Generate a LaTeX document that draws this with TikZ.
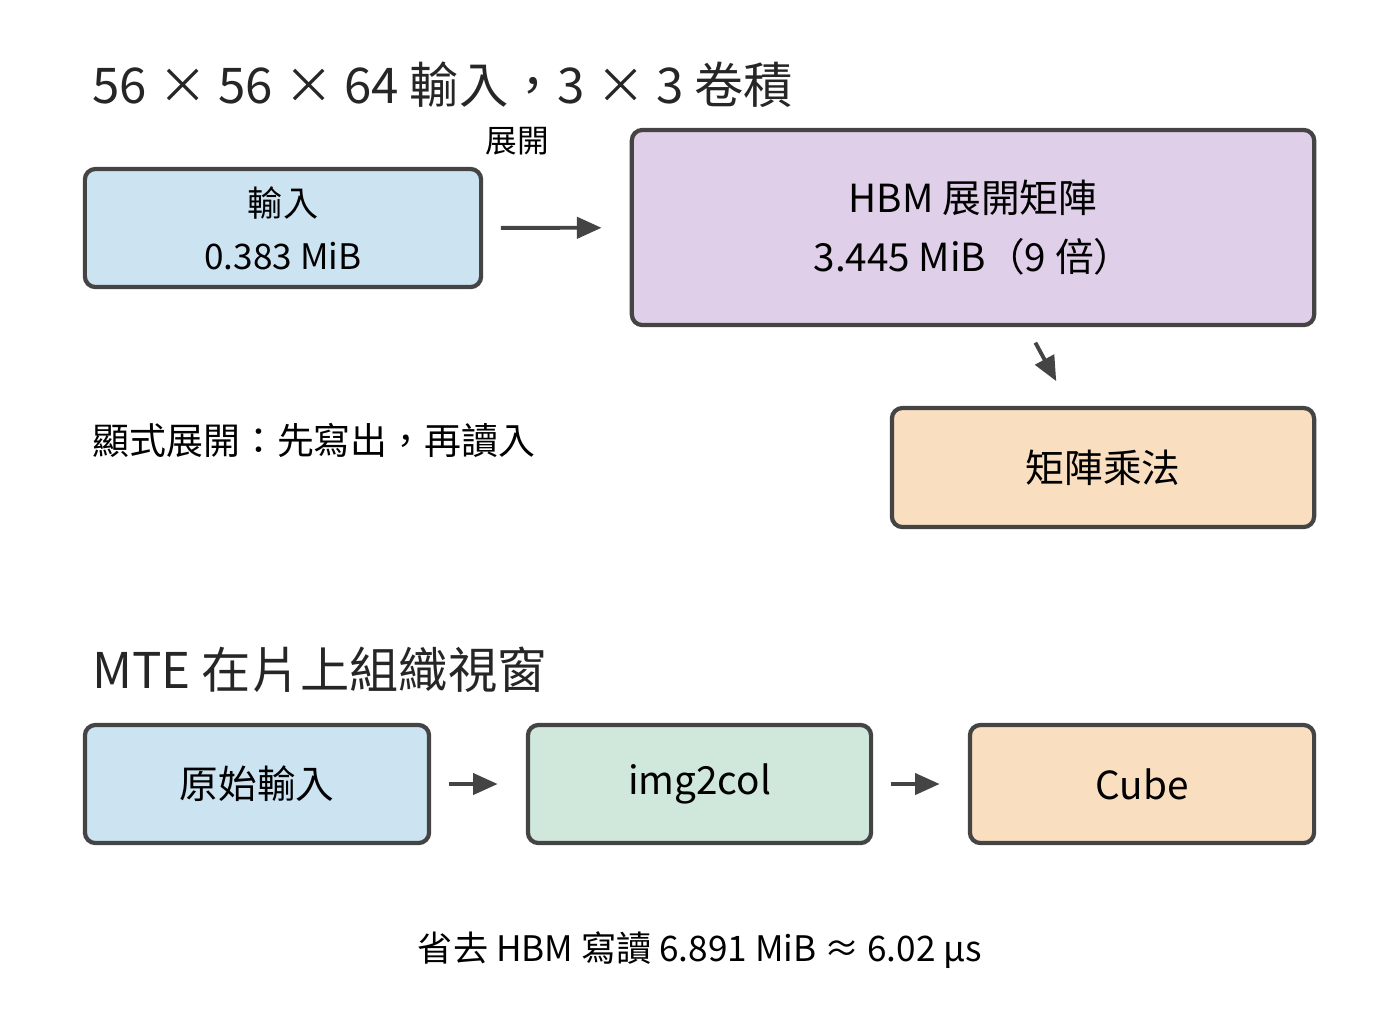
\documentclass[tikz,border=0pt]{standalone}
\usepackage{fontspec}
\setmainfont{Noto Sans CJK TC}
\usetikzlibrary{positioning,arrows.meta}
\definecolor{inblue}{HTML}{CCE3F2}
\definecolor{hbmpurple}{HTML}{E0CFE8}
\definecolor{mmorange}{HTML}{F9DFC0}
\definecolor{colgreen}{HTML}{D0E8DC}
\definecolor{edge}{HTML}{444444}
\tikzset{
  box/.style={draw=edge, line width=1.2pt, rounded corners=3pt, align=center, font=\fontsize{10}{15}\selectfont, inner sep=0pt},
  flow/.style={draw=edge, line width=1.1pt, -{Triangle[length=7pt,width=6pt]}, shorten <=5pt, shorten >=8pt},
  head/.style={anchor=west, font=\fontsize{14}{16}\selectfont, text=black!85},
}
\begin{document}
\begin{tikzpicture}[x=0.01cm,y=-0.01cm]
\useasboundingbox (0,0) rectangle (1400,1032);

\node[head] (title1) at (80,85) {56 × 56 × 64 輸入，3 × 3 卷積};
\node[box, fill=inblue, minimum width=3.96cm, minimum height=1.18cm] (inp) at (283,228) {輸入\\0.383 MiB};
\node[box, fill=hbmpurple, minimum width=6.82cm, minimum height=1.95cm, font=\fontsize{11}{17}\selectfont] (hbm) at (973,227.5) {HBM 展開矩陣\\3.445 MiB（9 倍）};
\node[box, fill=mmorange, minimum width=4.22cm, minimum height=1.19cm, font=\fontsize{11}{14}\selectfont] (mm) at (1103,467.5) {矩陣乘法};
\node[font=\fontsize{9}{11}\selectfont] (unf) at (517,141) {展開};
\draw[flow] (inp) -- (hbm);
\draw[flow] (hbm) -- (mm);
\node[anchor=west, font=\fontsize{10.5}{12}\selectfont] (expl) at (80,440) {顯式展開：先寫出，再讀入};

\node[head] (title2) at (80,670) {MTE 在片上組織視窗};
\node[box, fill=inblue, minimum width=3.44cm, minimum height=1.18cm, font=\fontsize{11}{14}\selectfont] (raw) at (257,784) {原始輸入};
\node[box, fill=colgreen, minimum width=3.43cm, minimum height=1.18cm, font=\fontsize{11}{14}\selectfont] (i2c) at (699.5,784) {img2col};
\node[box, fill=mmorange, minimum width=3.44cm, minimum height=1.18cm, font=\fontsize{11}{14}\selectfont] (cube) at (1142,784) {Cube};
\draw[flow] (raw) -- (i2c);
\draw[flow] (i2c) -- (cube);
\node[font=\fontsize{10}{12}\selectfont] (note) at (700,950) {省去 HBM 寫讀 6.891 MiB ≈ 6.02 µs};
\end{tikzpicture}
\end{document}
